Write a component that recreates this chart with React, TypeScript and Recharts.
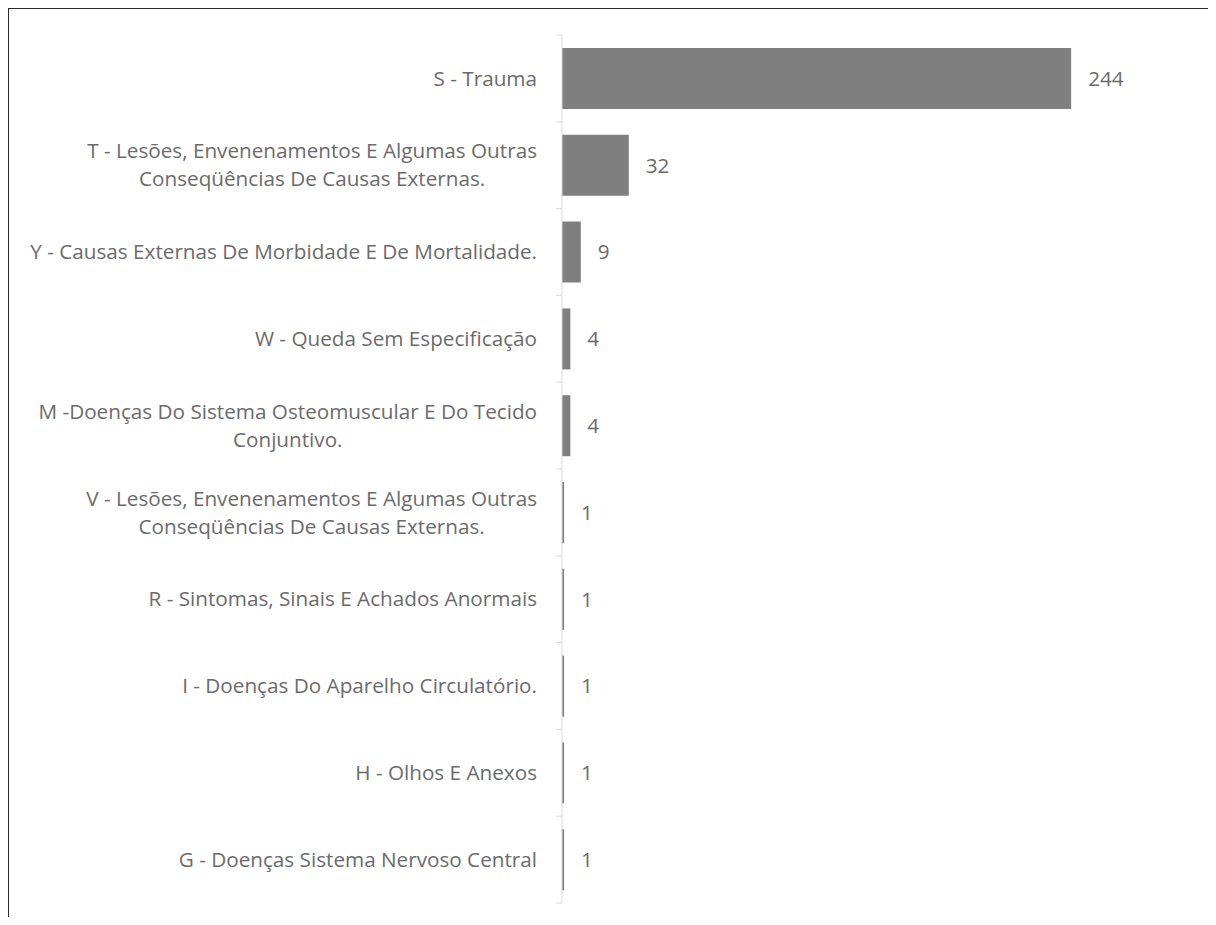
import React from 'react';
import { BarChart, Bar, XAxis, YAxis, LabelList } from 'recharts';

const categories = [
    'S - Trauma',
    'T - Lesões, Envenenamentos E Algumas Outras\nConseqüências De Causas Externas.',
    'Y - Causas Externas De Morbidade E De Mortalidade.',
    'W - Queda Sem Especificação',
    'M -Doenças Do Sistema Osteomuscular E Do Tecido\nConjuntivo.',
    'V - Lesões, Envenenamentos E Algumas Outras\nConseqüências De Causas Externas.',
    'R - Sintomas, Sinais E Achados Anormais',
    'I - Doenças Do Aparelho Circulatório.',
    'H - Olhos E Anexos',
    'G - Doenças Sistema Nervoso Central',
];
const counts = [244, 32, 9, 4, 4, 1, 1, 1, 1, 1];

const data = categories.map((name, i) => ({ name, value: counts[i] }));

const TITLE = 'Gráfico 1 - Incidentes de atendimento no HMI - Imagem de Saúde do HIR categorizados pelo CID';
const FONT = '"Open Sans", sans-serif';
const FONT_SIZE = 20.7;
const TEXT = '#6b6b6b';
const GRID = '#d9d9d9';

const CHART_W = 1210;
const CHART_H = 918;
const MARGIN = { top: 28, right: 29, bottom: 22, left: 0 };
const BAND = (CHART_H - MARGIN.top - MARGIN.bottom) / categories.length;

let ctx: CanvasRenderingContext2D | null = null;
function measure(s: string) {
    if (!ctx) ctx = document.createElement('canvas').getContext('2d');
    if (!ctx) return s.length * 10;
    ctx.font = `${FONT_SIZE}px "Open Sans"`;
    return ctx.measureText(s).width;
}

function CategoryTick(props: any) {
    const { x, y, payload, index } = props;
    const lines: string[] = String(payload.value).split('\n');
    const widths = lines.map(measure);
    const blockW = Math.max(...widths);
    const right = x - 25;
    const lh = 28;
    const y0 = y - ((lines.length - 1) * lh) / 2;
    return (
        <g>
            <line x1={x - 6} x2={x} y1={y - BAND / 2} y2={y - BAND / 2} stroke={GRID} />
            {index === categories.length - 1 && (
                <line x1={x - 6} x2={x} y1={y + BAND / 2} y2={y + BAND / 2} stroke={GRID} />
            )}
            {lines.map((l, i) => (
                <text
                    key={i}
                    x={lines.length > 1 ? right - blockW / 2 : right}
                    y={y0 + i * lh}
                    dy="0.35em"
                    textAnchor={lines.length > 1 ? 'middle' : 'end'}
                    fill={TEXT}
                    fontSize={FONT_SIZE}
                    fontFamily={FONT}
                >
                    {l}
                </text>
            ))}
        </g>
    );
}

export default function App() {
    return (
        <div style={{ position: 'relative', width: 1216, height: 925, margin: -8, overflow: 'hidden', background: '#fff' }}>
            <div style={{ position: 'absolute', left: 10, top: -13, fontFamily: 'Arial, "Liberation Sans", sans-serif', fontSize: 16, color: '#000', whiteSpace: 'nowrap' }}>
                {TITLE}
            </div>
            <div style={{ position: 'absolute', left: 7, top: 7, width: 1220, height: 930, border: '2px solid #2b2b2b', boxSizing: 'border-box' }} />
            <div style={{ position: 'absolute', left: 7, top: 7 }}>
                <BarChart width={CHART_W} height={CHART_H} data={data} layout="vertical" margin={MARGIN} barCategoryGap="15%">
                    <XAxis type="number" domain={[0, 300]} hide />
                    <YAxis
                        type="category"
                        dataKey="name"
                        width={555}
                        axisLine={{ stroke: GRID }}
                        tickLine={false}
                        tickSize={0}
                        tickMargin={0}
                        interval={0}
                        tick={<CategoryTick />}
                    />
                    <Bar dataKey="value" fill="#7f7f7f" isAnimationActive={false}>
                        <LabelList dataKey="value" position="right" offset={17} fill={TEXT} fontSize={FONT_SIZE} fontFamily={FONT} />
                    </Bar>
                </BarChart>
            </div>
        </div>
    );
}
